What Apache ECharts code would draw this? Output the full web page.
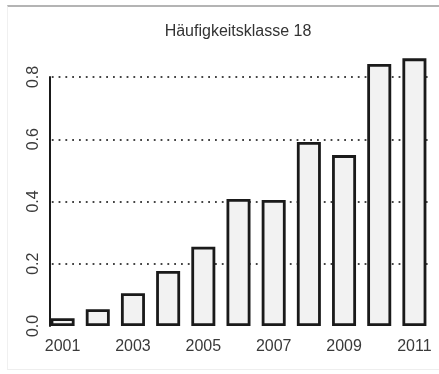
<!DOCTYPE html>
<html>
<head>
<meta charset="utf-8">
<script src="https://cdn.jsdelivr.net/npm/echarts@6/dist/echarts.min.js"></script>
<style>
  html, body { margin: 0; padding: 0; background: #ffffff; }
  #frame {
    position: absolute; left: 7px; top: 5px; width: 432px; height: 365px;
    border-top: 2px solid #b4b4b4; border-left: 1px solid #f0f0f0; border-bottom: 1px solid #eeeeee;
    box-sizing: border-box;
  }
  #chart { position: absolute; left: 0; top: 0; width: 439px; height: 374px; }
</style>
</head>
<body>
<div id="frame"></div>
<div id="chart"></div>
<script>
// Relative frequency per year, frequency class 18
const years = ['2001', '2002', '2003', '2004', '2005', '2006', '2007', '2008', '2009', '2010', '2011'];
const values = [0.025, 0.054, 0.105, 0.177, 0.255, 0.408, 0.405, 0.591, 0.549, 0.842, 0.860];
const yTicks = [0.0, 0.2, 0.4, 0.6, 0.8];
const titleText = 'Häufigkeitsklasse 18';

const FONT = '"Liberation Sans", Arial, sans-serif';

const chart = echarts.init(document.getElementById('chart'), null, { renderer: 'canvas' });

chart.setOption({
  animation: false,
  backgroundColor: 'transparent',
  title: {
    text: titleText,
    left: 238,
    top: 24,
    padding: 0,
    textAlign: 'center',
    textStyle: { fontFamily: FONT, fontSize: 16, fontWeight: 'normal', color: '#333333' }
  },
  // white strip so the dotted reference lines begin at the shifted y axis
  graphic: [{
    type: 'rect',
    shape: { x: 43, y: 70, width: 5.5, height: 262 },
    style: { fill: '#ffffff' },
    z: 5,
    silent: true
  }],
  grid: { left: 45, top: 77, width: 387, bottom: 48, containLabel: false },
  xAxis: {
    type: 'category',
    data: years,
    boundaryGap: true,
    axisLine: { show: false },
    axisTick: { show: false },
    splitLine: { show: false },
    axisLabel: {
      interval: 1,
      margin: 13,
      fontFamily: FONT, fontSize: 16, color: '#3a3a3a'
    }
  },
  yAxis: {
    type: 'value',
    min: yTicks[0],
    max: yTicks[yTicks.length - 1],
    interval: 0.2,
    offset: -5,
    axisLine: { show: true, lineStyle: { color: '#1a1a1a', width: 2 } },
    axisTick: { show: false },
    axisLabel: {
      rotate: 90,
      margin: 8,
      fontFamily: FONT, fontSize: 16, color: '#3a3a3a',
      formatter: v => v.toFixed(1)
    },
    splitLine: {
      show: true,
      lineStyle: {
        color: ['rgba(0,0,0,0)', '#444444', '#444444', '#444444', '#444444'],
        width: 1.8,
        type: [1.8, 5]
      }
    }
  },
  series: [{
    type: 'bar',
    data: values,
    clip: false,
    barWidth: 24,
    itemStyle: { color: '#f2f2f2', borderColor: '#1a1a1a', borderWidth: 2.8 }
  }]
});
</script>
</body>
</html>
